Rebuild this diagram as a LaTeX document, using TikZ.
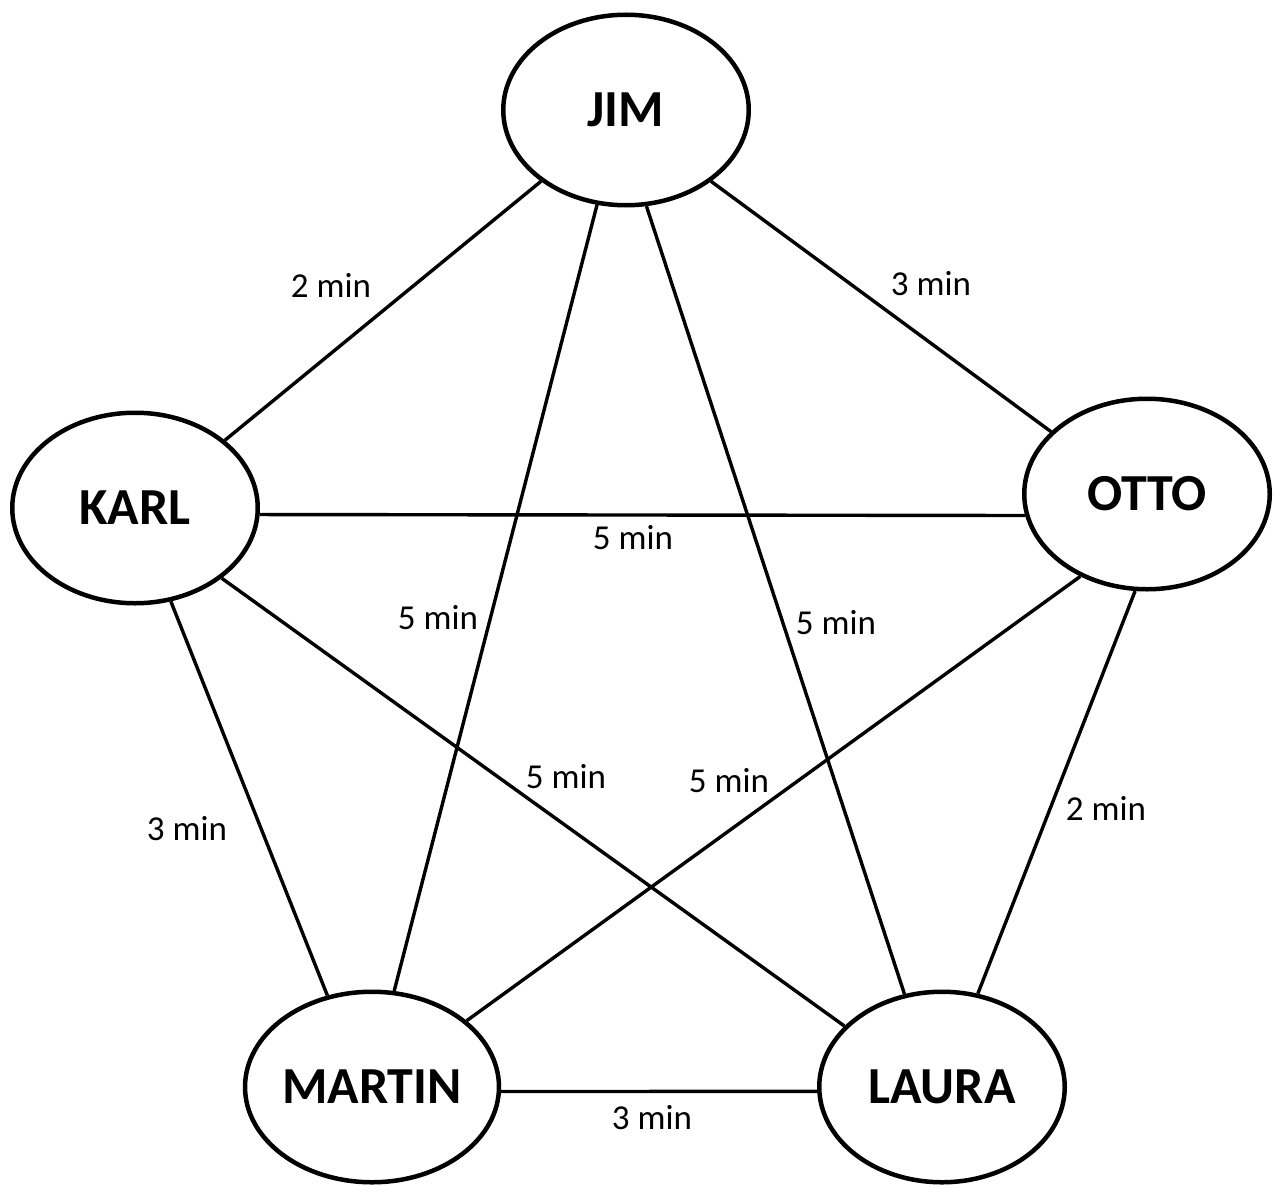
\documentclass[tikz,border=0pt]{standalone}
\usepackage{fontspec}
\setmainfont{Carlito}
\usetikzlibrary{shapes.geometric}
\tikzset{
  person/.style={draw, ellipse, line width=4.5pt, minimum width=245.5pt, minimum height=190.5pt, inner sep=0pt, font=\fontsize{52}{60}\selectfont\bfseries},
  edge/.style={line width=3.4pt},
  lbl/.style={inner sep=0pt, font=\fontsize{35}{42}\selectfont}
}
\begin{document}
\begin{tikzpicture}[x=1pt,y=-1pt]
\useasboundingbox (0,0) rectangle (1276,1185);
\fill[white] (0,0) rectangle (1276,1185);
\node[person] (JIM) at (626,110) {JIM};
\node[person] (KARL) at (135,508) {KARL};
\node[person] (OTTO) at (1147,494) {OTTO};
\node[person] (MARTIN) at (372,1087) {MARTIN};
\node[person] (LAURA) at (942,1087) {LAURA};

\draw[edge] (JIM.220.3) -- (KARL.37.1);
\draw[edge] (JIM.253.9) -- (MARTIN.77.4);
\draw[edge] (JIM.282.2) -- (LAURA.112.8);
\draw[edge] (JIM.320.1) -- (OTTO.147.4);
\draw[edge] (KARL.-3.7) -- (OTTO.190);
\draw[edge] (KARL.-69.8) -- (MARTIN.116.3);
\draw[edge] (KARL.-39.2) -- (LAURA.148.5);
\draw[edge] (OTTO.231.4) -- (MARTIN.35.1);
\draw[edge] (OTTO.263.6) -- (LAURA.69.2);
\draw[edge] (MARTIN.-2.7) -- (LAURA.182.7);

\node[lbl] (l1) at (331,285) {2 min};
\node[lbl] (l2) at (931,284) {3 min};
\node[lbl] (l3) at (633,538) {5 min};
\node[lbl] (l4) at (438,618) {5 min};
\node[lbl] (l5) at (836,623) {5 min};
\node[lbl] (l6) at (566,777) {5 min};
\node[lbl] (l7) at (729,781) {5 min};
\node[lbl] (l8) at (187,829) {3 min};
\node[lbl] (l9) at (1106,808) {2 min};
\node[lbl] (l10) at (652,1118) {3 min};
\end{tikzpicture}
\end{document}
